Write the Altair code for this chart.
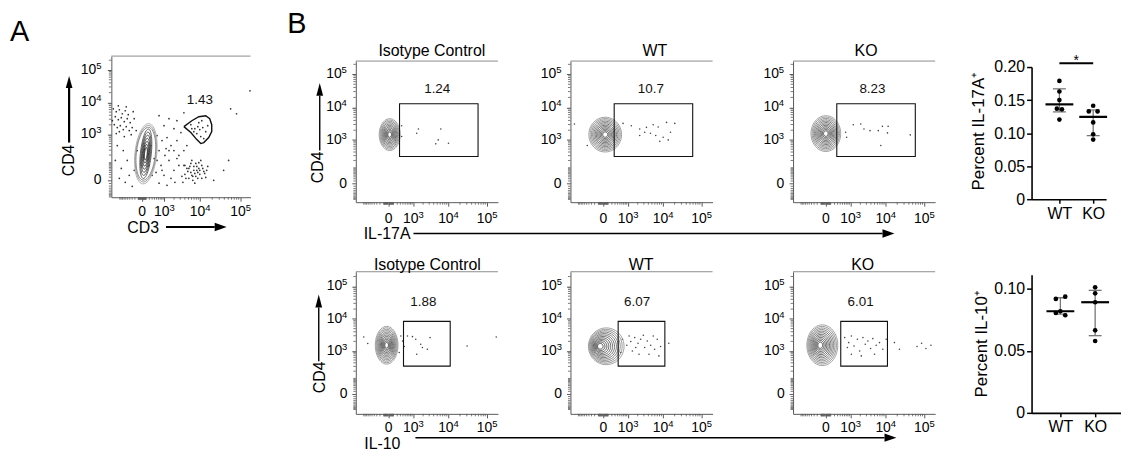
import json
import altair as alt
import numpy as np
import pandas as pd

FONT = "Liberation Sans"
AXC = "#5a5a5a"
FRAME = "#8c8c8c"

# ---------------- flow axes ----------------
MAJOR = [0, 1000, 10000, 100000]
POWERS = [1000, 10000, 100000]
POWER_BASE = "10"
POWER_EXP = ["3", "4", "5"]

# ---------------- Panel A : CD3 (x) vs CD4 (y) ----------------
A_DOT_X = [-1620, -1310, -1040, -820, -633, -473, -1405, -1125, -890, -690, -524, -382, -1510, -1215,
           -965, -755, -577, -426, -299, -1310, -1040, -690, -339, -225, -1730, -1125, -577, -261,
           -1215, -755, -524, -890, -426, -633, -299, -225, -1040, -1405,
           524, 820, 1215, 1620, 633, 1040, 1985, 1405, 2420, 755, 2750, 473, 965, 1620, 1215, 2120,
           3330, 633, 382, 3770, 4530, 2420,
           4530, 5760, 6880, 8210, 9780, 6490, 7740, 9230, 10980, 5110, 8700, 12330, 4010, 6110, 10360,
           13820, 3540, 7300, 15500, 6880, 8700, 5430,
           965, 1985, 3125, 1405, 633, 2420, 3770,
           5760, 7300, 9230, 11640, 8210, 10360, 13820, 6880, 10980, 15500, 8700, 12330, 6110, 9780,
           57030, 79800, 170000, 38450, 21850, 50950,
           4010, 4800, 6110, 7300, 8210, 9780, 11640, 13000, 5760, 9230, 14600, 4270, 6490, 10980,
           7740, 5110,
           191, 300, 524, 820, 1405, 1985, 2750, 261, 1130, 3770, -159, -129]
A_DOT_Y = [6350, 5140, 5920, 4450, 5510, 4150, 3600, 2900, 3350, 2520, 3120, 2340, 2030, 1640,
           1890, 1420, 1760, 1320, 1640, 1060, 1220, 850, 980, 3120, 2700, 7860, 7320, 5140,
           430, 291, 124, 53, 17, -6, -21, 41, 6, 124,
           913, 630, 788, 430, 291, 193, 291, 124, 148, 75, 75, 30, 17, 6, -17, -6,
           13, -9, 148, 291, 430, 630,
           53, 30, 67, 41, 21, 13, 93, 53, 75, 6, 6, 35, 21, 124, 124,
           9, -6, -9, 67, 41, 30, 67,
           1890, 1520, 1140, 3120, 3860, 2700, 4780,
           2030, 1520, 2340, 1640, 1060, 850, 1220, 1220, 2700, 1890, 1760, 732, 1520, 1420,
           6350, 4450, 22700, 41, 0, 124,
           75, 35, 17, 25, 67, 41, 53, 25, 93, 100, 41, 6, 0, 6,
           13, 53,
           75, 17, 124, 41, 291, 41, 193, 430, 340, 75, 1320, 291]
A_GATE_X = [3770, 6110, 9230, 13820, 17400, 19500, 19500, 16400, 12330, 10360, 8210, 5760, 3770]
A_GATE_Y = [1760, 2700, 3600, 3860, 3120, 2030, 1220, 788, 542, 502, 679, 1140, 1760]
A_GATE_PCT = "1.43"
A_GATE_LABEL_AT = (9780, 12000)
A_POP_AT = (92, 223)

# ---------------- Panel B flow plots ----------------
SAMPLES = ["Isotype Control", "WT", "KO"]
PCT_17A = ["1.24", "10.7", "8.23"]
PCT_10 = ["1.88", "6.07", "6.01"]

GATE_17A = (272, 58700, 280, 12800)
GATE_10 = (423, 11100, 307, 8345)

ISO1_X = [348, 1445, 1278, 6240, 5320, 4570, 10000, 348]
ISO1_Y = [2760, 2185, 1600, 2185, 995, 744, 780, 1265]
WT1_X = [665, 1278, 2280, 3540, 5420, 7370, 12300, 20200, 3170, 4560, 6340, 10000, 8160, 13600,
         2280, 15600, -1344, -474]
WT1_Y = [3245, 2760, 2185, 2450, 2960, 2500, 3480, 3245, 1720, 1600, 1360, 1200, 895, 995,
         1360, 1720, 3110, 655]
KO1_X = [665, 724, 1213, 2050, 2550, 3770, 6340, 8160, 11550, 11100, 7390, 43600]
KO1_Y = [1720, 1200, 2960, 3110, 2185, 1940, 1940, 2630, 2630, 1650, 655, 1430]

ISO2_X = [-1000, -728, 318, 383, 615, 927, 1190, 1700, 2660, 3170, 1280, 1905, 30600, 172400, 454, 262]
ISO2_Y = [2735, 1705, 2940, 2055, 2940, 2815, 2325, 1620, 1125, 2625, 778, 1275, 1430, 2735, 1370, 883]
WT2_X = [631, 905, 1225, 1627, 2040, 2440, 3165, 3740, 4630, 5930, 6960, 8560, 1374, 2182, 4165,
         7720, 1080, 2900, 5445, 14100, 548, 1745]
WT2_Y = [2325, 1510, 1970, 2625, 1740, 2325, 1275, 2055, 1510, 1125, 2325, 1370, 993, 778, 778,
         685, 2940, 3090, 2940, 1740, 883, 1275]
KO2_X = [615, 857, 1055, 1280, 1627, 1905, 2380, 2780, 3290, 3910, 4515, 5580, 6840, 8360, 1055,
         2140, 5020, 772, 10270, 16900, 22800, 65000, 85400, 110300, 148000]
KO2_Y = [2625, 1830, 2940, 1430, 2325, 993, 2625, 1620, 2055, 1185, 2440, 1510, 1830, 1125, 778,
         685, 778, 1275, 2325, 1830, 1125, 1370, 1740, 1185, 1510]

POP_CENTERS_17A = [(20, 1460), (37, 1460), (0, 1570)]
POP_CENTERS_10 = [(-37, 1510), (-80, 1400), (-127, 1510)]
LABEL_AT_17A = [(5000, 35400), (4700, 35400), (4400, 35400)]
LABEL_AT_10 = [(2040, 32850), (1905, 32850), (2040, 32850)]

# ---------------- dot plots ----------------
GROUPS = ["WT", "KO"]
IL17A_VALUES = [[0.179, 0.163, 0.150, 0.137, 0.136, 0.1205],
                [0.1414, 0.1328, 0.1328, 0.1162, 0.0982, 0.0902]]
IL17A_SIDE = [[0, 0, 0, -0.075, 0.075, 0], [0, -0.13, 0.13, 0, 0, 0]]
IL10_VALUES = [[0.0920, 0.0938, 0.0820, 0.0807, 0.0788],
               [0.1013, 0.0965, 0.0893, 0.0666, 0.0580]]
IL10_SIDE = [[-0.13, 0.14, 0, -0.13, 0.14], [0, 0, 0, 0, 0]]
IL17A_SIG = "*"

ONE = pd.DataFrame({"k": [0]})
LAB_FS, EXP_FS = 14, 9.5
W10 = 0.556 * 2 * LAB_FS      # advance of "10"
WEXP = 0.556 * EXP_FS          # advance of one exponent digit


def ellipse_path(rx, ry=1.0, rot=0.0, cx=0.0, n=48):
    t = np.linspace(0, 2 * np.pi, n, endpoint=False)
    c, s = np.cos(np.radians(rot)), np.sin(np.radians(rot))
    ex, ey = rx * np.cos(t), ry * np.sin(t)
    px = cx + ex * c - ey * s
    py = ex * s + ey * c
    parts = [("M" if i == 0 else "L") + f"{a:.4f},{b:.4f}" for i, (a, b) in enumerate(zip(px, py))]
    return " ".join(parts) + " Z"


def minor_ticks(lo, hi):
    out = []
    for k in (1, 2, 3, 4, 5):
        for d in range(1, 10):
            for sgn in (1, -1):
                v = sgn * d * 10 ** k
                if lo < v < hi and v not in MAJOR:
                    out.append(v)
    return sorted(out)


def T(text, x, y, size=16, align="center", baseline="alphabetic", angle=0, color="black"):
    kw = dict(text=text, fontSize=size, align=align, baseline=baseline, color=color)
    if angle:
        kw["angle"] = angle
    return alt.Chart(ONE).mark_text(**kw).encode(x=alt.value(x), y=alt.value(y))


def L(x1, y1, x2, y2, w=1.4, color="black"):
    return alt.Chart(ONE).mark_rule(color=color, strokeWidth=w).encode(
        x=alt.value(x1), y=alt.value(y1), x2=alt.value(x2), y2=alt.value(y2))


def HEAD(x, y, direction, length=12, hw=0.3):
    if direction == "up":
        path = f"M0,-1 L{hw},0 L{-hw},0 Z"
    else:
        path = f"M1,0 L0,{hw} L0,{-hw} Z"
    return alt.Chart(ONE).mark_point(shape=path, filled=True, color="black", opacity=1,
                                     size=(2 * length) ** 2, strokeWidth=0).encode(
        x=alt.value(x), y=alt.value(y))


def flow_panel(p):
    xr, yr = p["xr"], p["yr"]
    H = p["H"]
    xs = alt.Scale(type="symlog", constant=p["xC"], domain=p["xdom"], range=xr, nice=False, zero=False)
    ys = alt.Scale(type="symlog", constant=p["yC"], domain=p["ydom"], range=yr, nice=False, zero=False)
    common = dict(values=MAJOR, labels=False, tickSize=4, tickColor=AXC, domainColor=AXC,
                  grid=False, title=None)
    xaxis = alt.Axis(**common)
    yaxis = alt.Axis(**common)

    def X(f):
        return alt.X(f, type="quantitative", scale=xs, axis=xaxis)

    def Y(f):
        return alt.Y(f, type="quantitative", scale=ys, axis=yaxis)

    layers = []
    # events (carry the axes)
    ddf = pd.DataFrame({"x": p["dots"][0], "y": p["dots"][1]})
    layers.append(alt.Chart(ddf).mark_circle(size=p.get("dotsize", 2.5), color=p.get("dotcolor", "#444"),
                                             opacity=1).encode(x=X("x"), y=Y("y")))
    # contour rings of the main population
    for ring in p["rings"]:
        n = len(ring["levels"])
        df = pd.DataFrame({"x": [ring["at"][0]] * n, "y": [ring["at"][1]] * n, "level": ring["levels"]})
        layers.append(
            alt.Chart(df).mark_point(shape=ellipse_path(ring["rx"], 1.0, ring.get("rot", 0), ring.get("cx", 0)),
                                     filled=False, strokeWidth=ring.get("sw", 0.8), opacity=1).encode(
                x=X("x"), y=Y("y"),
                size=alt.Size("level:Q", scale=alt.Scale(type="pow", exponent=2, domain=[0, ring["N"]],
                                                         range=[0, ring["H"] ** 2]), legend=None),
                color=alt.Color("level:Q", scale=alt.Scale(domain=[min(ring["levels"]), max(ring["levels"])],
                                                           range=ring["colors"]), legend=None),
            ))
    if p.get("spot"):
        sdf = pd.DataFrame({"x": [p["rings"][0]["at"][0]], "y": [p["rings"][0]["at"][1]]})
        layers.append(alt.Chart(sdf).mark_point(filled=True, color="white", size=5, opacity=1).encode(
            x=X("x"), y=Y("y")))
    # gate
    if "gate" in p:
        g = p["gate"]
        gdf = pd.DataFrame({"x1": [g[0]], "x2": [g[1]], "y1": [g[2]], "y2": [g[3]]})
        layers.append(alt.Chart(gdf).mark_rect(filled=False, color="#111", strokeWidth=1.1).encode(
            x=X("x1"), x2="x2:Q", y=Y("y1"), y2="y2:Q"))
    if "poly" in p:
        pdf = pd.DataFrame({"x": p["poly"][0], "y": p["poly"][1], "i": list(range(len(p["poly"][0])))})
        layers.append(alt.Chart(pdf).mark_line(color="#111", strokeWidth=1.4).encode(
            x=X("x"), y=Y("y"), order="i:Q"))
    ldf = pd.DataFrame({"x": [p["label_at"][0]], "y": [p["label_at"][1]], "t": [p["label"]]})
    layers.append(alt.Chart(ldf).mark_text(fontSize=13.5, baseline="middle", color="#111").encode(
        x=X("x"), y=Y("y"), text="t:N"))
    # minor ticks
    mx = pd.DataFrame({"t": minor_ticks(*p["xdom"])})
    layers.append(alt.Chart(mx).mark_rule(color=AXC, strokeWidth=0.8).encode(
        x=X("t"), y=alt.value(H), y2=alt.value(H + 2.5)))
    my = pd.DataFrame({"t": minor_ticks(*p["ydom"])})
    layers.append(alt.Chart(my).mark_rule(color=AXC, strokeWidth=0.8).encode(
        y=Y("t"), x=alt.value(xr[0]), x2=alt.value(xr[0] - 2.5)))
    # tick labels: "0" and 10 with a raised exponent
    zero = pd.DataFrame({"v": [0], "t": ["0"]})
    pw = pd.DataFrame({"v": POWERS, "b": [POWER_BASE] * len(POWERS), "e": POWER_EXP})
    xb = H + p.get("xlab", 19.5)
    half = (W10 + WEXP) / 2
    layers += [
        alt.Chart(zero).mark_text(fontSize=LAB_FS, align="center", baseline="alphabetic").encode(
            x=X("v"), y=alt.value(xb), text="t:N"),
        alt.Chart(pw).mark_text(fontSize=LAB_FS, align="left", baseline="alphabetic", dx=-half).encode(
            x=X("v"), y=alt.value(xb), text="b:N"),
        alt.Chart(pw).mark_text(fontSize=EXP_FS, align="left", baseline="alphabetic",
                                dx=-half + W10, dy=-4.8).encode(
            x=X("v"), y=alt.value(xb), text="e:N"),
    ]
    yl = xr[0] - p.get("ylab", 9)
    layers += [
        alt.Chart(zero).mark_text(fontSize=LAB_FS, align="right", baseline="middle").encode(
            y=Y("v"), x=alt.value(yl), text="t:N"),
        alt.Chart(pw).mark_text(fontSize=LAB_FS, align="right", baseline="middle").encode(
            y=Y("v"), x=alt.value(yl - WEXP), text="b:N"),
        alt.Chart(pw).mark_text(fontSize=EXP_FS, align="right", baseline="middle", dy=-4.2).encode(
            y=Y("v"), x=alt.value(yl), text="e:N"),
    ]
    # top border
    layers.append(L(xr[0], yr[1], xr[1], yr[1], w=1, color=FRAME))
    layers.extend(p.get("extra", []))
    ch = alt.layer(*layers).properties(width=p["W"], height=H)
    return ch.resolve_scale(size="independent", color="independent")


def dot_panel(d):
    rows = []
    for g, vals, sides in zip(GROUPS, d["values"], d["side"]):
        for v, s in zip(vals, sides):
            rows.append({"group": g, "v": v, "side": s})
    df = pd.DataFrame(rows)
    summ = []
    for g, vals in zip(GROUPS, d["values"]):
        q1, med, q3 = np.percentile(vals, [25, 50, 75], method="weibull")
        summ.append({"group": g, "q1": q1, "med": med, "q3": q3})
    sdf = pd.DataFrame(summ)
    gexpr = f"indexof({json.dumps(GROUPS)}, datum.group) + 1"
    xs = alt.Scale(domain=d["xdom"], nice=False, zero=False)
    ys = alt.Scale(domain=d["ydom"], range=d["yr"], nice=False, zero=False)
    xaxis = alt.Axis(values=[1, 2], labelExpr=f"{json.dumps(GROUPS)}[datum.value - 1]", labelFontSize=16,
                     labelPadding=2, tickSize=4, tickWidth=1.5, tickColor="black", domainColor="black",
                     domainWidth=1.6, grid=False, title=None, labelFlush=False, labelColor="black")
    yaxis = alt.Axis(values=d["yticks"], labelExpr="datum.value == 0 ? '0' : format(datum.value, '.2f')",
                     labelFontSize=16, labelPadding=2, tickSize=5, tickWidth=1.5, tickColor="black",
                     domainColor="black", domainWidth=1.6, grid=False, title=d["title"], titleFontSize=17,
                     titleFontWeight="normal", titleAngle=270, titleX=d["tX"], titleY=d["tY"],
                     titleAlign="center", titleBaseline="alphabetic", labelFlush=False, labelColor="black",
                     titleColor="black")

    def X(f):
        return alt.X(f, type="quantitative", scale=xs, axis=xaxis)

    def Y(f):
        return alt.Y(f, type="quantitative", scale=ys, axis=yaxis)

    whisk = alt.Chart(sdf).transform_calculate(gx=gexpr).mark_rule(color="#777", strokeWidth=1.3).encode(
        x=X("gx"), y=Y("q1"), y2="q3:Q")
    caps = alt.Chart(sdf).transform_fold(["q1", "q3"], as_=["k", "qv"]).transform_calculate(gx=gexpr).mark_tick(
        orient="horizontal", size=13, thickness=1.3, color="#777", opacity=1).encode(x=X("gx"), y=Y("qv"))
    med = alt.Chart(sdf).transform_calculate(gx=gexpr).mark_tick(
        orient="horizontal", size=28, thickness=2.2, color="black", opacity=1).encode(x=X("gx"), y=Y("med"))
    dots = alt.Chart(df).transform_calculate(gx=gexpr + " + datum.side").mark_circle(
        size=22, color="black", opacity=1).encode(x=X("gx"), y=Y("v"))
    layers = [whisk, caps, med, dots]
    if "sig" in d:
        sig = pd.DataFrame({"a": [GROUPS[0]], "b": [GROUPS[1]]})
        calc = dict(ga=f"indexof({json.dumps(GROUPS)}, datum.a) + 1",
                    gb=f"indexof({json.dumps(GROUPS)}, datum.b) + 1")
        layers.append(alt.Chart(sig).transform_calculate(**calc).mark_rule(color="black", strokeWidth=2).encode(
            x=X("ga"), x2="gb:Q", y=alt.YDatum(d["sig_y"], scale=ys, axis=yaxis)))
        layers.append(alt.Chart(sig).transform_calculate(**calc).transform_calculate(
            gm="(datum.ga + datum.gb) / 2").mark_text(text=d["sig"], fontSize=14, baseline="alphabetic",
                                                      dy=2).encode(
            x=X("gm"), y=alt.YDatum(d["sig_y"], scale=ys, axis=yaxis)))
    return alt.layer(*layers).properties(width=d["W"], height=d["H"])


B_X = dict(xC=300, xdom=[-1780, 190400], xr=[0, 143])
ROW1 = dict(yC=50, ydom=[-132, 251000], yr=[147, 5], H=147, xlab=20.5, ylab=9)
ROW2 = dict(yC=50, ydom=[-154, 280400], yr=[143, 0], H=143, xlab=18, ylab=8.5)
WIDTHS = [216, 224, 240]
RING_COLORS = ["#1e1e1e", "#8a8a8a"]

# ring shapes for each population (style)
RINGS_17A = [dict(H=32, rx=0.66, N=12), dict(H=35, rx=0.94, N=13), dict(H=36, rx=0.83, N=13)]
RINGS_10 = [dict(H=38, rx=0.60, N=13), dict(H=37, rx=0.97, cx=0.38, N=13), dict(H=41, rx=0.76, cx=0.12, N=13)]
TITLE_X_17A = [76.5, 85, 73.5]
TITLE_X_10 = [72, 71, 70]

# ---- Panel A ----
panelA = flow_panel(dict(
    W=246, H=142, xC=400, xdom=[-1856, 174900], xr=[0, 140], yC=40, ydom=[-92.5, 267500], yr=[142, 0],
    xlab=18.5, ylab=10,
    rings=[dict(at=A_POP_AT, levels=[14, 15, 16], N=16, H=61, rx=0.36, rot=6, colors=["#6e6e6e", "#a0a0a0"]),
           dict(at=A_POP_AT, levels=[2, 3, 4, 5, 6, 7, 8], N=8, H=50, rx=0.22, rot=6,
                colors=["#111111", "#555555"], sw=0.9)],
    dots=(A_DOT_X, A_DOT_Y), dotcolor="#333", dotsize=3,
    poly=(A_GATE_X, A_GATE_Y), label=A_GATE_PCT, label_at=A_GATE_LABEL_AT,
    extra=[T("A", -102, -15, size=29, align="left"),
           T("CD4", -43, 105, size=16, angle=270, baseline="middle"),
           L(-42.5, 87, -42.5, 32, w=2.2), HEAD(-42.5, 32, "up", 12, 0.28),
           T("CD3", 32, 173, size=16, baseline="middle"),
           L(55, 172, 104, 172, w=2.2), HEAD(104, 172, "right", 12, 0.36)],
))

flows = []
for row, pcts, gate, centers, lab_at, rings, tx, dots, ty in [
    (ROW1, PCT_17A, GATE_17A, POP_CENTERS_17A, LABEL_AT_17A, RINGS_17A, TITLE_X_17A,
     [(ISO1_X, ISO1_Y), (WT1_X, WT1_Y), (KO1_X, KO1_Y)], 0),
    (ROW2, PCT_10, GATE_10, POP_CENTERS_10, LABEL_AT_10, RINGS_10, TITLE_X_10,
     [(ISO2_X, ISO2_Y), (WT2_X, WT2_Y), (KO2_X, KO2_Y)], -2),
]:
    panels = []
    for i in range(3):
        r = dict(rings[i])
        r["at"] = centers[i]
        r["levels"] = list(range(2, r["N"] + 1))
        r["colors"] = RING_COLORS
        extra = [T(SAMPLES[i], tx[i], ty, size=16)]
        p = dict(W=WIDTHS[i], **B_X, **row, rings=[r], spot=True, dots=dots[i], gate=gate,
                 label=pcts[i], label_at=lab_at[i], extra=extra)
        panels.append(p)
    flows.append(panels)

# annotations on the isotype panels
flows[0][0]["extra"] += [
    T("B", -69, -23, size=29, align="left"),
    T("CD4", -38, 112, size=16, angle=270, baseline="middle"),
    L(-36.3, 95, -36.3, 40, w=1.4), HEAD(-36.3, 40, "up", 13, 0.26),
    T("IL-17A", 31.5, 179, size=16, baseline="middle"),
    L(58, 178.5, 530, 178.5, w=1.4), HEAD(530, 178.5, "right", 12, 0.35),
]
flows[1][0]["extra"] += [
    T("CD4", -36.3, 106.3, size=16, angle=270, baseline="middle"),
    L(-37.3, 90, -37.3, 36, w=1.4), HEAD(-37.3, 36, "up", 13, 0.26),
    T("IL-10", 26.7, 173.8, size=16, baseline="middle"),
    L(60, 167, 532, 167, w=1.4), HEAD(532, 167, "right", 12, 0.35),
]

row1 = [flow_panel(p) for p in flows[0]]
row2 = [flow_panel(p) for p in flows[1]]

dot1 = dot_panel(dict(values=IL17A_VALUES, side=IL17A_SIDE, W=75, H=144, yr=[144, 11], ydom=[0, 0.2],
                      yticks=[0, 0.05, 0.1, 0.15, 0.2], xdom=[0.1765, 2.382], title="Percent IL-17A⁺",
                      tX=-48, tY=75, sig=IL17A_SIG, sig_y=0.2056))
dot2 = dot_panel(dict(values=IL10_VALUES, side=IL10_SIDE, W=90, H=142, yr=[142, 3], ydom=[0, 0.1115],
                      yticks=[0, 0.05, 0.1], xdom=[0.1714, 2.743], title="Percent IL-10⁺",
                      tX=-45, tY=72))

blank = alt.Chart(ONE).mark_point(opacity=0).encode(x=alt.value(0), y=alt.value(0)).properties(width=10, height=10)

chart = alt.concat(panelA, *row1, dot1, blank, *row2, dot2, columns=5,
                   spacing={"row": 70, "column": 0}, bounds="flush", align="each").resolve_scale(
    x="independent", y="independent", size="independent", color="independent")
chart = chart.properties(padding={"left": 2, "top": 1, "right": 0, "bottom": 0}).configure(
    font=FONT).configure_view(stroke=None).configure_axis(labelFont=FONT, titleFont=FONT)

chart.save("out.html", embed_options={"renderer": "svg", "actions": False})
